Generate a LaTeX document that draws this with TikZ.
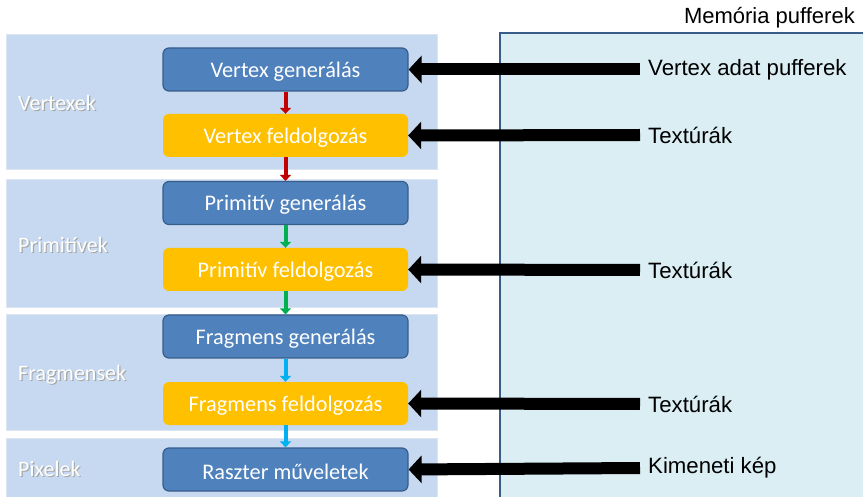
\documentclass[tikz,border=0pt]{standalone}
\usepackage{fontspec}
\setmainfont{Carlito}
\newfontfamily\arialf{Liberation Sans}
\usetikzlibrary{arrows.meta}
\definecolor{band}{RGB}{198,217,240}
\definecolor{bandedge}{RGB}{220,230,242}
\definecolor{memfill}{RGB}{218,238,243}
\definecolor{memedge}{RGB}{56,93,138}
\definecolor{bluenode}{RGB}{79,129,189}
\definecolor{blueedge}{RGB}{56,93,138}
\definecolor{yellownode}{RGB}{255,192,0}
\definecolor{redarr}{RGB}{192,0,0}
\definecolor{greenarr}{RGB}{0,176,80}
\definecolor{cyanarr}{RGB}{0,176,240}
\newcommand{\lowtext}[1]{\raisebox{-2pt}[\height][\depth]{#1}}
\tikzset{
  bandbox/.style={fill=band, draw=bandedge, line width=1pt},
  stage/.style={rounded corners=6pt, minimum width=245pt, minimum height=43pt, text=white, font=\fontsize{22.3}{26}\selectfont, inner sep=0pt},
  genbox/.style={stage, fill=bluenode, draw=blueedge, line width=1.2pt},
  procbox/.style={stage, fill=yellownode},
  sidelabel/.style={anchor=west, text=white, font=\fontsize{22}{26}\selectfont, inner sep=0pt},
  sideshadow/.style={anchor=west, text=black!35, font=\fontsize{22}{26}\selectfont, inner sep=0pt},
  memlabel/.style={anchor=west, font=\arialf\fontsize{22.2}{26}\selectfont, inner sep=0pt},
  bigarrow/.style={line width=12pt, -{Triangle[length=13pt,width=27pt]}},
  smallarrow/.style={line width=4pt, -{Triangle[length=6pt,width=11pt]}}
}
\begin{document}
\begin{tikzpicture}[x=1pt,y=-1pt]
\useasboundingbox (0,0) rectangle (863,497);
% bands
\draw[bandbox] (6,35) rectangle (437,170);
\draw[bandbox] (6,180) rectangle (437,308);
\draw[bandbox] (6,315) rectangle (437,430);
\draw[bandbox] (6,438) rectangle (437,500);
% memory box
\draw[fill=memfill, draw=memedge, line width=1.2pt] (500,33) rectangle (866,500);
\node[anchor=east, font=\arialf\fontsize{22}{26}\selectfont, inner sep=0pt] (memtitle) at (855,18) {Memória pufferek};
% side labels
\foreach \n/\t/\y in {sa/Vertexek/103, sb/Primitívek/245, sc/Fragmensek/375, sd/Pixelek/469}{
  \node[sideshadow] (\n s) at (19.2,\y+1.2) {\t};
  \node[sidelabel] (\n) at (18,\y) {\t};
}
% stages
\node[genbox]  (vg) at (285.5,69.5)  {\lowtext{Vertex generálás}};
\node[procbox] (vf) at (285.5,135.5) {\lowtext{Vertex feldolgozás}};
\node[genbox]  (pg) at (285.5,203)   {\lowtext{Primitív generálás}};
\node[procbox] (pf) at (285.5,269.5) {\lowtext{Primitív feldolgozás}};
\node[genbox]  (fg) at (285.5,336.5) {\lowtext{Fragmens generálás}};
\node[procbox] (ff) at (285.5,403.5) {\lowtext{Fragmens feldolgozás}};
\node[genbox]  (rm) at (285.5,469.5) {\lowtext{Raszter műveletek}};
% small arrows
\draw[smallarrow, redarr] (vg.south) -- (vf.north);
\draw[smallarrow, redarr] (vf.south) -- (pg.north);
\draw[smallarrow, greenarr] (pg.south) -- (pf.north);
\draw[smallarrow, greenarr] (pf.south) -- (fg.north);
\draw[smallarrow, cyanarr] (fg.south) -- (ff.north);
\draw[smallarrow, cyanarr] (ff.south) -- (rm.north);
% memory labels
\node[memlabel] (m1) at (648,69.5)  {Vertex adat pufferek};
\node[memlabel] (m2) at (648,135)   {Textúrák};
\node[memlabel] (m3) at (648,270)   {Textúrák};
\node[memlabel] (m4) at (648,404)   {Textúrák};
\node[memlabel] (m5) at (648,468)   {Kimeneti kép};
% big arrows
\draw[bigarrow] (m1.west) ++(-8,0) coordinate (c1) -- (vg.east);
\draw[bigarrow] (m2.west) ++(-8,0) coordinate (c2) -- (vf.east);
\draw[bigarrow] (m3.west) ++(-8,0) coordinate (c3) -- (pf.east);
\draw[bigarrow] (m4.west) ++(-8,0) coordinate (c4) -- (ff.east);
\draw[bigarrow] (m5.west) ++(-8,0) coordinate (c5) -- (rm.east);
\end{tikzpicture}
\end{document}
